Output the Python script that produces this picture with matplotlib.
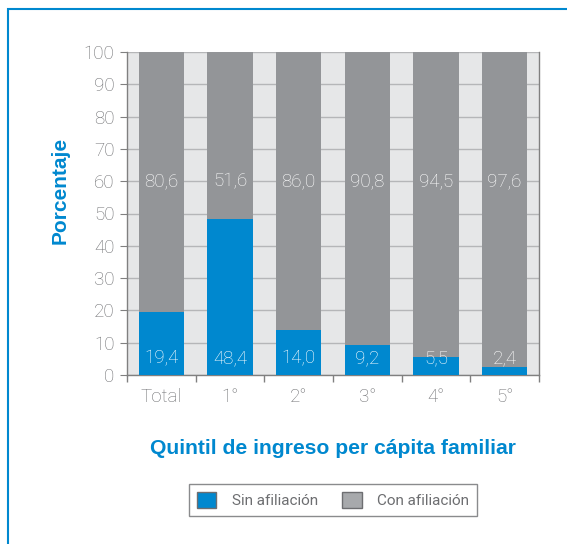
import matplotlib
matplotlib.use("Agg")
import matplotlib.pyplot as plt
from matplotlib.patches import Rectangle, Patch

categories = ["Total", "1°", "2°", "3°", "4°", "5°"]
sin_afiliacion = [19.4, 48.4, 14.0, 9.2, 5.5, 2.4]
con_afiliacion = [80.6, 51.6, 86.0, 90.8, 94.5, 97.6]
yticks = list(range(0, 101, 10))

BLUE = "#0088cf"
GRAY = "#939598"
BG = "#e6e7e8"
TXT = "#6d6e71"

plt.rcParams['font.family'] = ['Roboto', 'DejaVu Sans']

fig = plt.figure(figsize=(5.67, 5.44), dpi=100)
# outer frame
fig.patches.append(Rectangle((8/567, -0.1), 1.2, 1 - 9/544 + 0.1, transform=fig.transFigure,
                             fill=False, edgecolor=BLUE, linewidth=1.5))
ax = fig.add_axes([127/567, 1 - 375/544, 412/567, 323/544])
ax.set_facecolor(BG)
x = list(range(len(categories)))
w = 0.66
ax.bar(x, sin_afiliacion, width=w, color=BLUE, zorder=3, label="Sin afiliación")
ax.bar(x, con_afiliacion, width=w, bottom=sin_afiliacion, color=GRAY, zorder=3, label="Con afiliación")

for i in x:
    ax.text(i, 5.3, f"{sin_afiliacion[i]:.1f}".replace(".", ","), ha="center", va="center",
            color="white", fontsize=13.5, fontweight="light", zorder=4)
    ax.text(i, 60, f"{con_afiliacion[i]:.1f}".replace(".", ","), ha="center", va="center",
            color="white", fontsize=13.5, fontweight="light", zorder=4)

ax.set_xlim(-0.5, 5.5)
ax.set_ylim(0, 100)
ax.set_yticks(yticks)
ax.set_yticklabels([str(t) for t in yticks])
ax.yaxis.grid(True, color="#b5b6b8", linewidth=1, zorder=1)
ax.set_axisbelow(True)
ax.set_xticks([i - 0.5 for i in range(len(categories) + 1)])
ax.set_xticklabels([])
ax.set_xticks(x, minor=True)
ax.set_xticklabels(categories, minor=True)
ax.tick_params(axis="x", which="minor", length=0, pad=9, labelsize=13.5, labelcolor=TXT)
ax.tick_params(axis="x", which="major", length=5, color="#808080", width=1)
ax.tick_params(axis="y", length=5, color="#808080", labelsize=13.5, labelcolor=TXT, pad=4)
for lbl in ax.get_xticklabels(minor=True) + ax.get_yticklabels():
    lbl.set_fontweight("light")
for s in ["left", "bottom", "right"]:
    ax.spines[s].set_color("#808080")
    ax.spines[s].set_linewidth(1)
ax.spines["top"].set_visible(False)

fig.text(60/567, 1 - 190/544, "Porcentaje", rotation=90, ha="center", va="center",
         color=BLUE, fontsize=15, fontweight="bold", family=["Liberation Sans", "DejaVu Sans"])
fig.text(333/567, 1 - 448/544, "Quintil de ingreso per cápita familiar", ha="center", va="center",
         color=BLUE, fontsize=15.2, fontweight="bold", family=["Liberation Sans", "DejaVu Sans"])

handles = [Patch(facecolor=BLUE, edgecolor="#6d6e71", label="Sin afiliación"),
           Patch(facecolor="#a7a9ac", edgecolor="#6d6e71", label="Con afiliación")]
leg = fig.legend(handles=handles, loc="center", bbox_to_anchor=(333/567, 1 - 500/544), ncol=2,
                 frameon=True, fancybox=False, edgecolor="#6d6e71", fontsize=11,
                 handlelength=1.3, handleheight=1.3, columnspacing=1.6, borderpad=0.5,
                 handletextpad=1.0, labelcolor=TXT)
leg.get_frame().set_linewidth(1)
fig.savefig("out.png", dpi=100)
